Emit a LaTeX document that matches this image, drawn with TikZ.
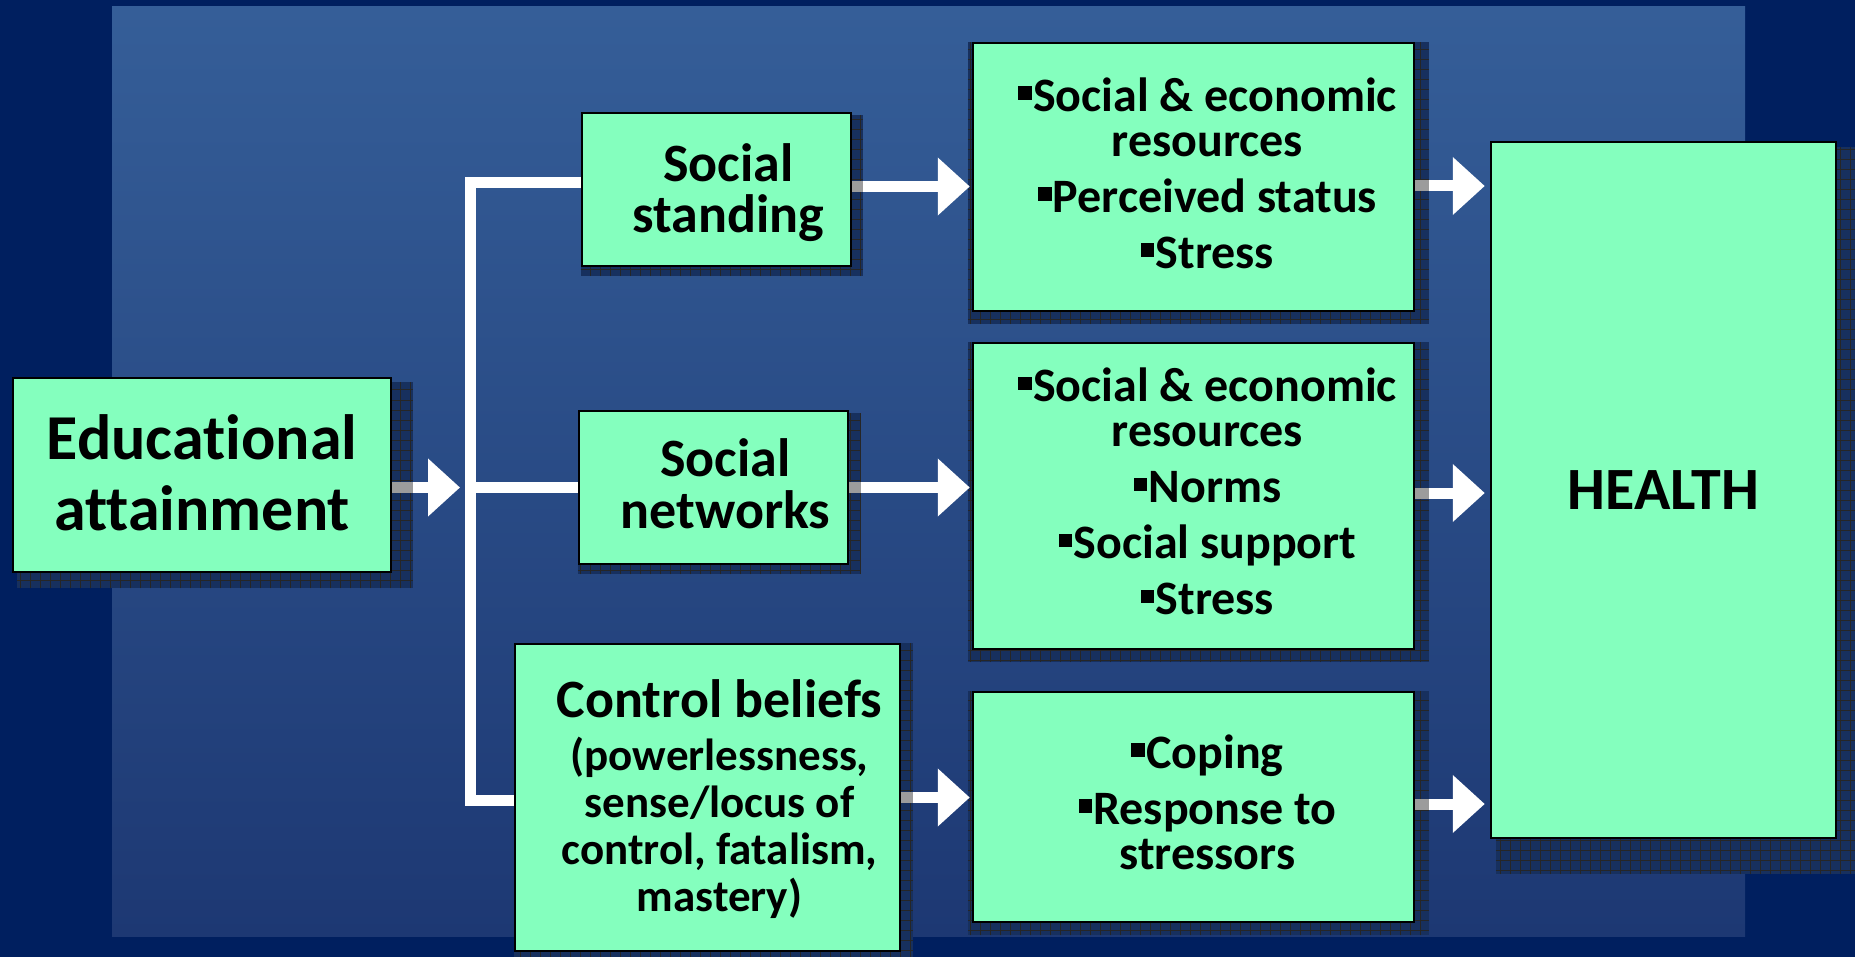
\documentclass[tikz,border=0pt]{standalone}
\usepackage{fontspec}
\setmainfont{Carlito}[Ligatures=NoCommon]
\usetikzlibrary{arrows.meta,calc}
\pgfdeclarelayer{bgl}\pgfdeclarelayer{shl}\pgfdeclarelayer{arl}
\pgfsetlayers{bgl,shl,arl,main}
\definecolor{outerbg}{HTML}{001F5F}
\definecolor{innertop}{HTML}{355E98}
\definecolor{innerbot}{HTML}{1D3873}
\definecolor{boxfill}{HTML}{84FFBE}
\definecolor{shfill}{HTML}{17305E}
\definecolor{segcol}{HTML}{9C9C9C}
\newcommand\bul{\raisebox{0.24em}{\rule{0.28em}{0.28em}}\hspace{0.03em}}
\newcommand\mkshadow[5]{%
  \fill[shfill] ($(#1.north west)+(#2,#3)$) rectangle ($(#1.south east)+(#4,#5)$);
  \begin{scope}
    \clip ($(#1.north west)+(#2,#3)$) rectangle ($(#1.south east)+(#4,#5)$);
    \draw[black!85, line width=1pt, xstep=10pt, ystep=10pt] ($(#1.north west)+(#2,#3)$) grid ($(#1.south east)+(#4,#5)$);
  \end{scope}}
\begin{document}
\begin{tikzpicture}[x=1pt,y=-1pt,
  box/.style={draw=black, line width=2.5pt, fill=boxfill, rectangle, inner sep=0pt},
  txt/.style={align=center, inner sep=0pt, text=black},
  conn/.style={draw=white, line width=11pt, line cap=butt, line join=miter},
  arr/.style={draw=white, line width=11pt, line cap=butt, -{Triangle[length=32pt,width=56pt]}},
  gseg/.style={draw=segcol, line width=11pt, line cap=butt}]
\useasboundingbox (0,0) rectangle (1855,957);
\begin{pgfonlayer}{bgl}
  \fill[outerbg] (0,0) rectangle (1855,957);
  \shade[top color=innertop, bottom color=innerbot] (112,7) rectangle (1745,936);
\end{pgfonlayer}

% boxes
\node[box, minimum width=378pt, minimum height=194pt] (edu) at (202,475) {};
\node[box, minimum width=269pt, minimum height=153pt] (ss) at (716.5,189.5) {};
\node[box, minimum width=269pt, minimum height=153pt] (sn) at (713.5,487.5) {};
\node[box, minimum width=385pt, minimum height=307pt] (cb) at (707.5,797.5) {};
\node[box, minimum width=441pt, minimum height=268pt] (r1) at (1193.5,177) {};
\node[box, minimum width=441pt, minimum height=306pt] (r2) at (1193.5,496) {};
\node[box, minimum width=441pt, minimum height=230pt] (r3) at (1193.5,807) {};
\node[box, minimum width=345pt, minimum height=696pt] (h) at (1663.5,490) {};

% texts
\node[txt, font=\bfseries\fontsize{64}{71}\selectfont] (edut) at ([yshift=2pt]edu.center) {Educational\\attainment};
\node[txt, font=\bfseries\fontsize{54}{51}\selectfont] (sst) at ([xshift=12pt,yshift=-3pt]ss.center) {Social\\standing};
\node[txt, font=\bfseries\fontsize{54}{52}\selectfont] (snt) at ([xshift=12pt,yshift=4pt]sn.center) {Social\\networks};
\node[txt, font=\bfseries\fontsize{45}{47}\selectfont] (cbt) at ([xshift=12pt,yshift=-1.5pt]cb.center) {{\fontsize{54}{47}\selectfont Control beliefs}\\[6pt](powerlessness,\\sense/locus of\\control, fatalism,\\mastery)};
\node[txt, font=\bfseries\fontsize{48}{45}\selectfont] (r1t) at ([xshift=14pt,yshift=4pt]r1.center) {\bul Social \& economic\\resources\\[11pt]\bul Perceived status\\[11pt]\bul Stress};
\node[txt, font=\bfseries\fontsize{48}{45}\selectfont] (r2t) at ([xshift=14pt,yshift=4.5pt]r2.center) {\bul Social \& economic\\resources\\[11pt]\bul Norms\\[11pt]\bul Social support\\[11pt]\bul Stress};
\node[txt, font=\bfseries\fontsize{48}{45}\selectfont] (r3t) at ([xshift=14pt,yshift=5pt]r3.center) {\bul Coping\\[11pt]\bul Response to\\stressors};
\node[txt, font=\bfseries\fontsize{60}{60}\selectfont] (ht) at (h.center) {HEALTH};

\coordinate (trunk) at (470.5,487.5);

\begin{pgfonlayer}{shl}
  \mkshadow{edu}{5}{5}{21}{15}
  \mkshadow{ss}{0}{3}{11}{9}
  \mkshadow{sn}{0}{3}{12}{9}
  \mkshadow{cb}{0}{0}{12}{10}
  \mkshadow{r1}{-4}{0}{14}{12}
  \mkshadow{r2}{-4}{0}{14}{12}
  \mkshadow{r3}{-4}{0}{14}{12}
  \mkshadow{h}{6}{6}{40}{35}
\end{pgfonlayer}

\begin{pgfonlayer}{arl}
  % tree connector
  \draw[conn] ([yshift=6.5pt]ss.west) -| (trunk) |- ([yshift=-2.5pt]cb.west);
  \draw[conn] (trunk) -- (sn.west);
  % educational -> tree
  \draw[arr] (edu.east |- trunk) -- ([xshift=-10.5pt]trunk);
  \draw[gseg] (edu.east |- trunk) -- ++(21,0);
  % middle -> right
  \draw[arr, shorten >=2pt] ([yshift=3pt]ss.east) -- ([yshift=3pt]ss.east -| r1.west);
  \draw[gseg] ([yshift=3pt]ss.east) -- ++(11,0);
  \draw[arr, shorten >=2pt] (sn.east) -- (sn.east -| r2.west);
  \draw[gseg] (sn.east) -- ++(12,0);
  \draw[arr, shorten >=2pt] (cb.east) -- (cb.east -| r3.west);
  \draw[gseg] (cb.east) -- ++(12,0);
  % right -> health
  \draw[arr, shorten >=5pt] ([yshift=-9pt]r1.east) -- ([yshift=-9pt]r1.east -| h.west);
  \draw[gseg] ([yshift=-9pt]r1.east) -- ++(14,0);
  \draw[arr, shorten >=5pt] ([yshift=3pt]r2.east) -- ([yshift=3pt]r2.east -| h.west);
  \draw[gseg] ([yshift=3pt]r2.east) -- ++(14,0);
  \draw[arr, shorten >=5pt] ([yshift=3pt]r3.east) -- ([yshift=3pt]r3.east -| h.west);
  \draw[gseg] ([yshift=3pt]r3.east) -- ++(14,0);
\end{pgfonlayer}
\end{tikzpicture}
\end{document}
